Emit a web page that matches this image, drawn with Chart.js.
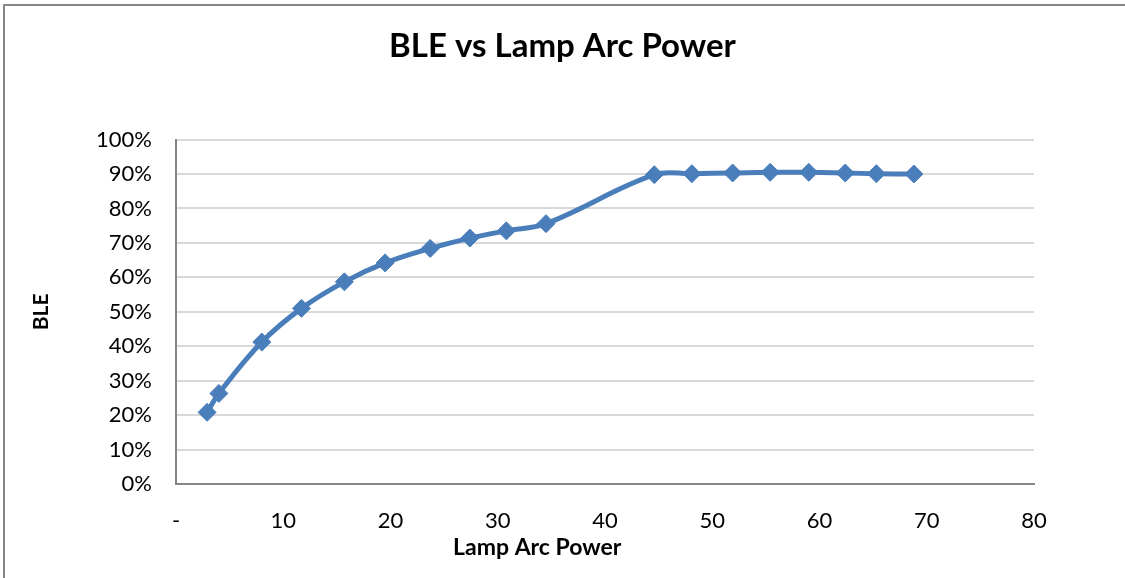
<!DOCTYPE html>
<html>
<head>
<meta charset="utf-8">
<script src="https://cdn.jsdelivr.net/npm/chart.js@4"></script>
<style>
  html, body { margin: 0; padding: 0; background: #fff; }
  #wrap { position: relative; width: 1125px; height: 578px; }
  #frame { position: absolute; left: 3px; top: 4px; right: 0; bottom: 0;
           border-left: 2px solid #868686; border-top: 2px solid #868686; }
  canvas { position: absolute; left: 0; top: 0; }
</style>
</head>
<body>
<div id="wrap">
  <div id="frame"></div>
  <canvas id="chart" width="1125" height="578"></canvas>
</div>
<script>
const arcPower = [2.9, 4.0, 8.0, 11.7, 15.7, 19.5, 23.7, 27.4, 30.8, 34.5,
                  44.6, 48.1, 51.9, 55.4, 59.0, 62.4, 65.3, 68.8];
const bleValues = [0.208, 0.263, 0.412, 0.510, 0.587, 0.642, 0.684, 0.714, 0.735, 0.756,
                   0.898, 0.901, 0.903, 0.905, 0.905, 0.903, 0.901, 0.900];
const xTicks = [0, 10, 20, 30, 40, 50, 60, 70, 80];
const yTicks = [0, 0.1, 0.2, 0.3, 0.4, 0.5, 0.6, 0.7, 0.8, 0.9, 1.0];
const xTitle = 'Lamp Arc Power';

const fontFamily = 'Lato, "Open Sans", sans-serif';
const axisColor = '#868686';

const points = arcPower.map((x, i) => ({ x: x, y: bleValues[i] }));

// Excel put the x axis title left of the plot's centre; Chart.js can't offset it,
// so draw it here instead
const xTitlePlugin = {
  id: 'xTitle',
  afterDraw(chart) {
    const { ctx, chartArea } = chart;
    ctx.save();
    ctx.font = `bold 23px ${fontFamily}`;
    ctx.fillStyle = '#000';
    ctx.textAlign = 'center';
    ctx.textBaseline = 'middle';
    ctx.fillText(xTitle, chartArea.left + chartArea.width * 0.421, chartArea.bottom + 64);
    ctx.restore();
  },
};

new Chart(document.getElementById('chart'), {
  type: 'scatter',
  data: {
    datasets: [{
      label: 'BLE',
      data: points,
      showLine: true,
      tension: 0.38,
      borderColor: '#4a7ebb',
      borderWidth: 5,
      backgroundColor: '#4a7ebb',
      pointStyle: 'rectRot',
      pointRadius: 9,
      pointBorderWidth: 1,
      pointBorderColor: '#4a7ebb',
      pointBackgroundColor: '#4a7ebb',
    }],
  },
  options: {
    responsive: false,
    animation: false,
    layout: { padding: 0 },
    plugins: {
      legend: { display: false },
      tooltip: { enabled: false },
      title: {
        display: true,
        text: 'BLE vs Lamp Arc Power',
        color: '#000',
        font: { family: fontFamily, size: 33, weight: 'bold' },
        padding: { top: 27, bottom: 73 },
      },
    },
    scales: {
      x: {
        type: 'linear',
        min: 0,
        max: 80,
        afterBuildTicks: (scale) => { scale.ticks = xTicks.map(v => ({ value: v })); },
        afterFit: (scale) => { scale.height = 94; },
        border: { display: true, color: axisColor, width: 2 },
        grid: { display: false, drawTicks: false },
        ticks: {
          color: '#000',
          padding: 24,
          font: { family: fontFamily, size: 22 },
          callback: (v) => v === 0 ? '-' : String(v),
        },
        title: { display: false },
      },
      y: {
        type: 'linear',
        min: 0,
        max: 1,
        afterBuildTicks: (scale) => { scale.ticks = yTicks.map(v => ({ value: v })); },
        afterFit: (scale) => { scale.width = 176; },
        border: { display: true, color: axisColor, width: 2 },
        grid: { color: '#d9d9d9', lineWidth: 2, drawTicks: false },
        ticks: {
          color: '#000',
          padding: 24,
          font: { family: fontFamily, size: 22 },
          callback: (v) => Math.round(v * 100) + '%',
        },
        title: {
          display: true,
          text: 'BLE',
          color: '#000',
          font: { family: fontFamily, size: 21, weight: 'bold' },
          padding: { top: 29, bottom: 0 },
        },
      },
      // empty right-hand strip so the plot ends at 80 like the original
      yRight: {
        position: 'right',
        display: true,
        afterFit: (scale) => { scale.width = 91; },
        border: { display: false },
        grid: { display: false, drawTicks: false },
        ticks: { display: false },
      },
    },
  },
  plugins: [xTitlePlugin],
});
</script>
</body>
</html>
